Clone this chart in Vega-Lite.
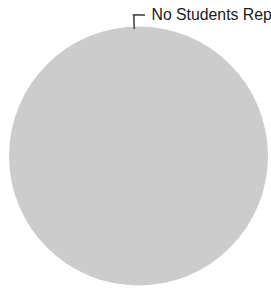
{
  "$schema": "https://vega.github.io/schema/vega-lite/v6.json",
  "width": 265,
  "height": 282,
  "padding": {"left": 6, "top": 15, "right": 0, "bottom": 0},
  "autosize": {"type": "none"},
  "background": "white",
  "config": {"view": {"stroke": null}},
  "data": {"values": [{"category": "No Students Reported", "value": 1}]},
  "layer": [
    {
      "mark": {"type": "arc", "outerRadius": 129.5, "color": "#cccccc"},
      "encoding": {
        "theta": {"field": "value", "type": "quantitative", "stack": true},
        "tooltip": {"field": "category"}
      }
    },
    {
      "mark": {"type": "arc", "theta": -0.04, "theta2": -0.027, "radius": 127, "radius2": 142, "color": "#555555"},
      "encoding": {}
    },
    {
      "mark": {"type": "arc", "theta": -0.04, "theta2": 0.046, "radius": 140.2, "radius2": 142, "color": "#555555"},
      "encoding": {}
    },
    {
      "mark": {"type": "text", "theta": 0, "radius": 136.5, "dx": 13, "align": "left", "baseline": "alphabetic", "font": "Liberation Sans", "fontSize": 15.8, "color": "#1a1a1a"},
      "encoding": {"text": {"field": "category"}}
    }
  ]
}
